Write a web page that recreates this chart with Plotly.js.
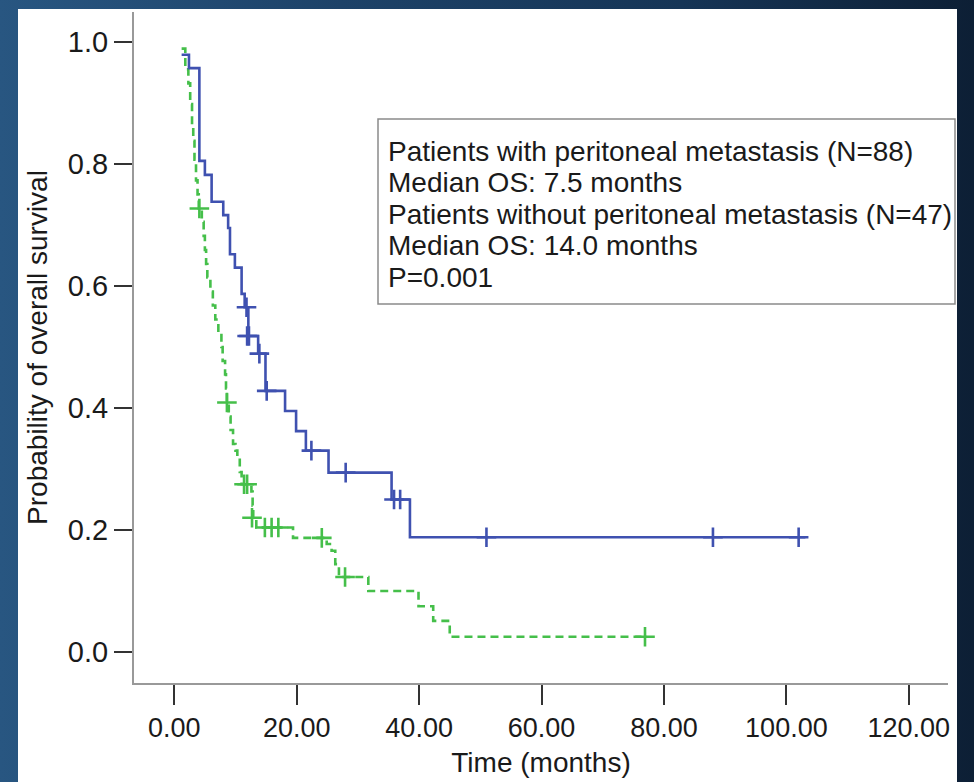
<!DOCTYPE html>
<html><head><meta charset="utf-8">
<script src="https://cdn.plot.ly/plotly-3.0.1.min.js"></script>
<style>
html,body{margin:0;padding:0;width:974px;height:782px;overflow:hidden;}
body{background:linear-gradient(90deg,#285681 0%,#1d4268 35%,#163556 70%,#0d1f35 100%);}
#chart{position:absolute;left:18px;top:9px;width:939px;height:773px;background:#fff;}
</style></head><body><div id="chart"></div>
<script>
// Patients without peritoneal metastasis (blue, solid)
var blueT = [1.2, 2.4, 4.1, 5.0, 6.1, 8.0, 8.8, 9.1, 9.9, 11.0, 11.5, 12.1, 13.7, 14.9, 18.1, 19.9, 21.5, 25.2, 35.5, 38.5, 103.1];
var blueS = [0.979, 0.957, 0.805, 0.782, 0.738, 0.716, 0.695, 0.652, 0.630, 0.587, 0.565, 0.518, 0.489, 0.428, 0.395, 0.362, 0.330, 0.294, 0.250, 0.188, 0.188];
var blueCensT = [11.8, 11.9, 12.2, 13.9, 15.1, 22.4, 28.0, 35.9, 36.9, 51.0, 88.0, 102.0];
var blueCensS = [0.565, 0.518, 0.518, 0.489, 0.428, 0.330, 0.294, 0.250, 0.250, 0.188, 0.188, 0.188];

// Patients with peritoneal metastasis (green, dashed)
var greenT = [1.2, 1.8, 2.3, 2.6, 2.9, 3.1, 3.3, 3.55, 3.8, 4.0, 4.5, 4.8, 5.0, 5.2, 5.4, 5.9, 6.3, 6.7, 7.2, 7.7, 7.9, 8.3, 8.45, 8.6, 8.9, 9.2, 9.6, 10.0, 10.3, 10.7, 11.0, 12.6, 12.8, 12.9, 13.4, 19.4, 24.9, 25.7, 26.3, 26.9, 31.7, 39.9, 42.3, 45.0, 77.2];
var greenS = [0.989, 0.955, 0.932, 0.898, 0.864, 0.838, 0.807, 0.773, 0.750, 0.727, 0.705, 0.682, 0.659, 0.636, 0.614, 0.591, 0.568, 0.545, 0.523, 0.500, 0.477, 0.455, 0.432, 0.409, 0.386, 0.364, 0.341, 0.330, 0.318, 0.295, 0.275, 0.263, 0.240, 0.220, 0.204, 0.187, 0.177, 0.166, 0.144, 0.123, 0.100, 0.075, 0.051, 0.025, 0.025];
var greenCensT = [4.1, 8.6, 11.4, 11.9, 12.7, 14.8, 15.9, 17.0, 24.1, 27.9, 76.9];
var greenCensS = [0.727, 0.409, 0.275, 0.275, 0.220, 0.204, 0.204, 0.204, 0.187, 0.123, 0.025];

var xTicks = [0, 20, 40, 60, 80, 100, 120];
var yTicks = [0, 0.2, 0.4, 0.6, 0.8, 1.0];
var legendLines = [
  'Patients with peritoneal metastasis (N=88)',
  'Median OS: 7.5 months',
  'Patients without peritoneal metastasis (N=47)',
  'Median OS: 14.0 months',
  'P=0.001'
];

var BLUE = '#3f51b0', GREEN = '#45bf4a';
var FONT = 'Liberation Sans, Arial, Helvetica, sans-serif';

var traces = [
  {x: greenT, y: greenS, mode: 'lines', line: {shape: 'hv', color: GREEN, width: 2.6, dash: '8px,5px'}, hoverinfo: 'skip'},
  {x: blueT, y: blueS, mode: 'lines', line: {shape: 'hv', color: BLUE, width: 2.6}, hoverinfo: 'skip'},
  {x: greenCensT, y: greenCensS, mode: 'markers', marker: {symbol: 'cross-thin-open', size: 14, color: GREEN, line: {color: GREEN, width: 2.6}}, hoverinfo: 'skip'},
  {x: blueCensT, y: blueCensS, mode: 'markers', marker: {symbol: 'cross-thin-open', size: 14, color: BLUE, line: {color: BLUE, width: 2.6}}, hoverinfo: 'skip'}
];

// pixel (absolute page coords) -> paper fraction helpers
var W = 939, H = 773, L = 116, R = 9, T = 3, B = 99, OX = 18, OY = 9;
function fx(px) { return (px - OX - L) / (W - L - R); }
function fy(py) { return (H - B + OY - py) / (H - T - B); }

var annotations = legendLines.map(function (t, i) {
  return {xref: 'paper', yref: 'paper', x: fx(386), y: fy(151 + i * 31.5), xanchor: 'left', yanchor: 'middle',
          text: t, showarrow: false, font: {family: FONT, size: 28, color: '#1a1a1a'}};
});

var layout = {
  width: W, height: H,
  margin: {l: L, r: R, t: T, b: B},
  paper_bgcolor: '#ffffff', plot_bgcolor: '#ffffff',
  showlegend: false,
  font: {family: FONT, color: '#1a1a1a'},
  xaxis: {
    range: [-6.58, 126.4], tickvals: xTicks, tickformat: '.2f',
    ticks: 'outside', ticklen: 20, tickwidth: 2, tickcolor: '#333',
    showline: true, linecolor: '#999', linewidth: 2, showgrid: false, zeroline: false,
    tickfont: {family: FONT, size: 27, color: '#1a1a1a'},
    title: {text: 'Time (months)', font: {family: FONT, size: 28, color: '#1a1a1a'}, standoff: 10},
    automargin: false
  },
  yaxis: {
    range: [-0.0508, 1.049], tickvals: yTicks, tickformat: '.1f',
    ticks: 'outside', ticklen: 18, tickwidth: 2, tickcolor: '#333',
    showline: true, linecolor: '#999', linewidth: 2, showgrid: false, zeroline: false,
    tickfont: {family: FONT, size: 29, color: '#1a1a1a'},
    title: {text: 'Probability of overall survival', font: {family: FONT, size: 28, color: '#1a1a1a'}, standoff: 12},
    automargin: false
  },
  shapes: [{type: 'rect', xref: 'paper', yref: 'paper', x0: fx(378), x1: fx(955), y0: fy(304), y1: fy(119),
            line: {color: '#8a8a8a', width: 1.5}, fillcolor: 'rgba(0,0,0,0)'}],
  annotations: annotations
};

Plotly.newPlot('chart', traces, layout, {displayModeBar: false, staticPlot: true});
</script></body></html>
